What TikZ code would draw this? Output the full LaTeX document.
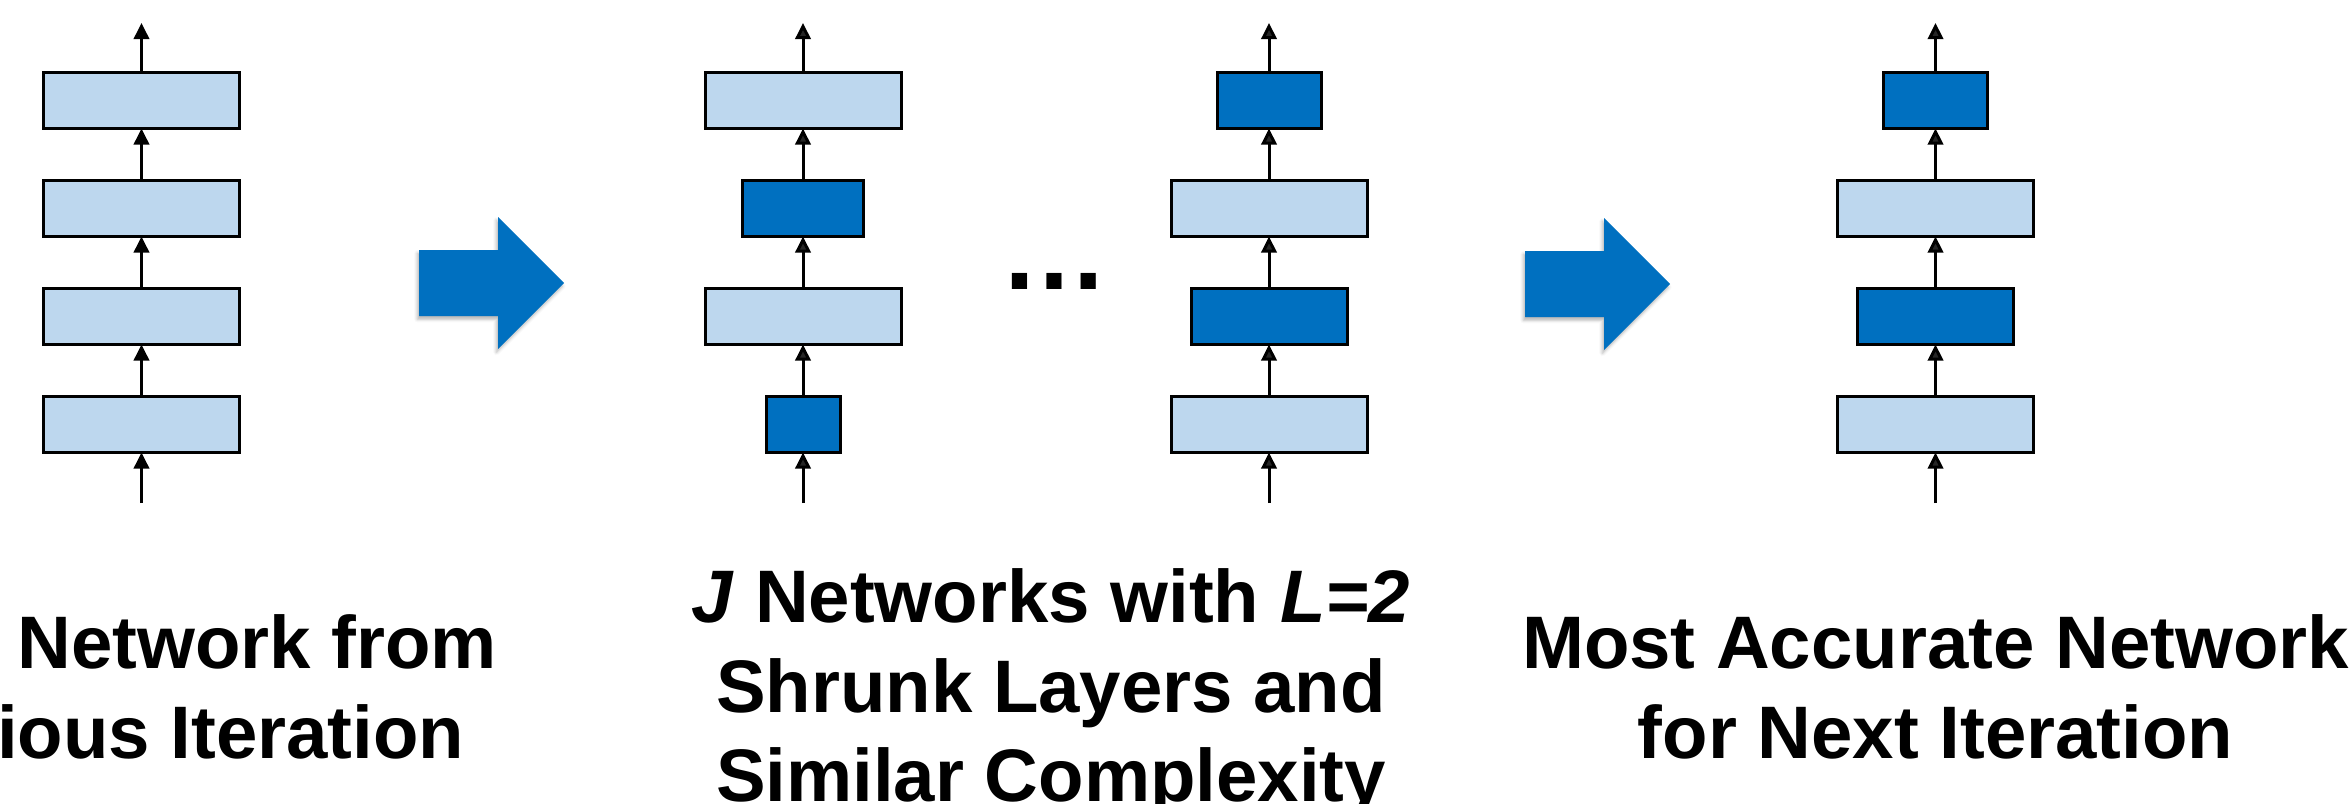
\documentclass[tikz,border=0pt]{standalone}
\usepackage{fontspec}
\setmainfont{Liberation Sans}
\usetikzlibrary{arrows.meta,shadows.blur}
\definecolor{lightblue}{HTML}{BDD7EE}
\definecolor{darkblue}{HTML}{0070C0}
\begin{document}
\begin{tikzpicture}[x=0.25pt,y=-0.25pt,
  layer/.style={draw=black, line width=0.75pt, minimum height=14pt, inner sep=0pt, outer sep=0pt},
  light/.style={layer, fill=lightblue, minimum width=49pt},
  dark/.style={layer, fill=darkblue},
  flow/.style={line width=0.75pt, -{Triangle[length=4pt,width=3.8pt]}},
  bigarrow/.style={fill=darkblue, blur shadow={shadow xshift=-0.4pt, shadow yshift=-0.8pt, shadow blur radius=0.8pt, shadow opacity=30}},
  lbl/.style={font=\bfseries\fontsize{18.6pt}{22pt}\selectfont, inner sep=0pt, anchor=base},
  dotsfont/.style={font=\bfseries\fontsize{27pt}{30pt}\selectfont, inner sep=0pt, anchor=base}]
\useasboundingbox (0,0) rectangle (2352,803);
\clip (0,0) rectangle (2352,803);

% ---------- network from previous iteration ----------
\node[light] (p1) at (141.5,100.5) {};
\node[light] (p2) at (141.5,208.5) {};
\node[light] (p3) at (141.5,316.5) {};
\node[light] (p4) at (141.5,424.5) {};
\coordinate (pt) at (141.5,23);
\coordinate (pb) at (141.5,503);
\draw[flow] (pb) -- (p4.south);
\draw[flow] (p4.north) -- (p3.south);
\draw[flow] (p3.north) -- (p2.south);
\draw[flow] (p2.north) -- (p1.south);
\draw[flow] (p1.north) -- (pt);

% ---------- big arrow 1 ----------
\fill[bigarrow] (419,250) -- (498,250) -- (498,217) -- (564,283) -- (498,349) -- (498,316) -- (419,316) -- cycle;

% ---------- candidate network A ----------
\node[light] (a1) at (803,100.5) {};
\node[dark, minimum width=30.25pt] (a2) at (803,208.5) {};
\node[light] (a3) at (803,316.5) {};
\node[dark, minimum width=18.5pt] (a4) at (803,424.5) {};
\coordinate (at) at (803,23);
\coordinate (ab) at (803,503);
\draw[flow] (ab) -- (a4.south);
\draw[flow] (a4.north) -- (a3.south);
\draw[flow] (a3.north) -- (a2.south);
\draw[flow] (a2.north) -- (a1.south);
\draw[flow] (a1.north) -- (at);

% ---------- dots ----------
\node[dotsfont] (dots) at (1054,289) {…};

% ---------- candidate network B ----------
\node[dark, minimum width=26pt] (b1) at (1269,100.5) {};
\node[light] (b2) at (1269,208.5) {};
\node[dark, minimum width=39pt] (b3) at (1269,316.5) {};
\node[light] (b4) at (1269,424.5) {};
\coordinate (bt) at (1269,23);
\coordinate (bb) at (1269,503);
\draw[flow] (bb) -- (b4.south);
\draw[flow] (b4.north) -- (b3.south);
\draw[flow] (b3.north) -- (b2.south);
\draw[flow] (b2.north) -- (b1.south);
\draw[flow] (b1.north) -- (bt);

% ---------- big arrow 2 ----------
\fill[bigarrow] (1525,251) -- (1604,251) -- (1604,218) -- (1670,284) -- (1604,350) -- (1604,317) -- (1525,317) -- cycle;

% ---------- most accurate network ----------
\node[dark, minimum width=26pt] (c1) at (1935.5,100.5) {};
\node[light] (c2) at (1935.5,208.5) {};
\node[dark, minimum width=39pt] (c3) at (1935.5,316.5) {};
\node[light] (c4) at (1935.5,424.5) {};
\coordinate (ct) at (1935.5,23);
\coordinate (cb) at (1935.5,503);
\draw[flow] (cb) -- (c4.south);
\draw[flow] (c4.north) -- (c3.south);
\draw[flow] (c3.north) -- (c2.south);
\draw[flow] (c2.north) -- (c1.south);
\draw[flow] (c1.north) -- (ct);

% ---------- labels ----------
\node[lbl, anchor=base east] (l1) at (498,668) {Network from};
\node[lbl, anchor=base east] (l2) at (465,758) {ious Iteration};

\node[lbl] (m1) at (1051,622) {\textit{J} Networks with \textit{L=2}};
\node[lbl] (m2) at (1051,712) {Shrunk Layers and};
\node[lbl] (m3) at (1051,801) {Similar Complexity};

\node[lbl] (r1) at (1935.5,668) {Most Accurate Network};
\node[lbl] (r2) at (1935.5,758) {for Next Iteration};
\end{tikzpicture}
\end{document}
